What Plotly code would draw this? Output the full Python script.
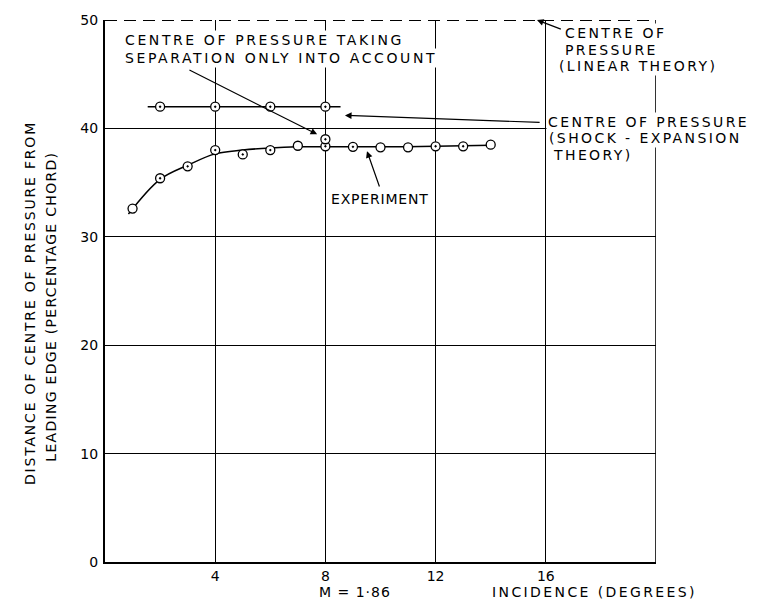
import plotly.graph_objects as go

# Centre of pressure position (% chord from leading edge) against incidence, M = 1.86
exp_incidence = [1, 2, 3, 4, 5, 6, 7, 8, 9, 10, 11, 12, 13, 14]
exp_cp = [32.6, 35.4, 36.5, 38.0, 37.6, 38.0, 38.4, 38.35, 38.3, 38.25, 38.25, 38.35, 38.35, 38.5]

# faired curve drawn through the experimental points
fair_incidence = [0.85, 2, 3, 4, 5, 6, 7, 8, 10, 12, 14]
fair_cp = [32.1, 35.3, 36.6, 37.65, 38.0, 38.2, 38.3, 38.3, 38.3, 38.35, 38.45]

# shock-expansion theory
shock_incidence = [2, 4, 6, 8]
shock_cp = [42.0, 42.0, 42.0, 42.0]
shock_line_incidence = [1.55, 8.55]
shock_line_cp = [42.0, 42.0]

# separation-only estimate
sep_incidence = [8]
sep_cp = [39.0]

# linear theory
linear_incidence = [0, 20]
linear_cp = [50, 50]

x_ticks = [4, 8, 12, 16]
y_ticks = [0, 10, 20, 30, 40, 50]

FONT = "DejaVu Sans"
INK = "black"


def spaced(text, ls):
    return f'<span style="letter-spacing:{ls}px">{text}</span>'


# point styles: some plotted circles carry a centre dot, some are plain
exp_symbols = ["circle" if x in (1, 7, 10, 11, 14) else "circle-dot" for x in exp_incidence]

fig = go.Figure()

fig.add_trace(go.Scatter(
    x=linear_incidence, y=linear_cp, mode="lines", cliponaxis=False,
    line=dict(color=INK, width=1.8, dash="12px,7px"), showlegend=False))

fig.add_trace(go.Scatter(
    x=fair_incidence, y=fair_cp, mode="lines", line_shape="spline",
    line=dict(color=INK, width=1.5), showlegend=False))

fig.add_trace(go.Scatter(
    x=shock_line_incidence, y=shock_line_cp, mode="lines",
    line=dict(color=INK, width=1.5), showlegend=False))

marker_style = dict(size=9, color="white", line=dict(color=INK, width=1.3))

fig.add_trace(go.Scatter(
    x=exp_incidence, y=exp_cp, mode="markers",
    marker=dict(symbol=exp_symbols, **marker_style), showlegend=False))

fig.add_trace(go.Scatter(
    x=shock_incidence, y=shock_cp, mode="markers",
    marker=dict(symbol="circle-dot", **marker_style), showlegend=False))

fig.add_trace(go.Scatter(
    x=sep_incidence, y=sep_cp, mode="markers",
    marker=dict(symbol="circle-dot", **marker_style), showlegend=False))

# right-hand frame edge
fig.add_shape(type="line", x0=20, x1=20, y0=0, y1=50, xref="x", yref="y",
              line=dict(color=INK, width=1.6), layer="above")

annotations = []


def text_lines(x_list, y, lines, ls, size=14, gap=16.5, anchor="left"):
    for i, (xx, line) in enumerate(zip(x_list, lines)):
        annotations.append(dict(
            x=xx, y=y, xref="x", yref="y", text=spaced(line, ls), showarrow=False,
            xanchor=anchor, yanchor="middle", yshift=-i * gap, align="left",
            bgcolor="white", borderpad=1, font=dict(family=FONT, size=size, color=INK)))


def arrow(tail, head):
    annotations.append(dict(
        x=head[0], y=head[1], ax=tail[0], ay=tail[1], xref="x", yref="y",
        axref="x", ayref="y", text="", showarrow=True, arrowhead=2,
        arrowsize=1.1, arrowwidth=1.2, arrowcolor=INK, standoff=0))


text_lines([0.65, 0.65], 48.15,
           ["CENTRE OF PRESSURE TAKING", "SEPARATION ONLY INTO ACCOUNT"], 2.6, gap=18)
text_lines([8.13], 33.45, ["EXPERIMENT"], 0.8)
text_lines([16.62, 16.62, 16.41], 48.8,
           ["CENTRE OF", "PRESSURE", "(LINEAR THEORY)"], 2.4)
text_lines([16.0, 16.05, 16.2], 40.6,
           ["CENTRE OF PRESSURE", "(SHOCK - EXPANSION", "THEORY)"], 2.4)

arrow((3.01, 45.45), (7.70, 39.45))
arrow((9.98, 34.5), (9.51, 37.9))
arrow((15.83, 40.55), (8.71, 41.2))
arrow((16.6, 49.1), (15.68, 50.0))

# vertical axis title, two lines
for xp, yp, line, ls in [(-0.136, 0.478, "DISTANCE OF CENTRE OF PRESSURE FROM", 1.8),
                         (-0.098, 0.471, "LEADING EDGE (PERCENTAGE CHORD)", 1.3)]:
    annotations.append(dict(
        x=xp, y=yp, xref="paper", yref="paper", text=spaced(line, ls), showarrow=False,
        textangle=-90, xanchor="center", yanchor="middle",
        font=dict(family=FONT, size=14, color=INK)))

annotations.append(dict(
    x=0.453, y=-0.0545, xref="paper", yref="paper", text=spaced("M = 1·86", 1.0),
    showarrow=False, xanchor="center", yanchor="middle",
    font=dict(family=FONT, size=14, color=INK)))
annotations.append(dict(
    x=0.889, y=-0.0545, xref="paper", yref="paper", text=spaced("INCIDENCE (DEGREES)", 2.4),
    showarrow=False, xanchor="center", yanchor="middle",
    font=dict(family=FONT, size=14, color=INK)))

fig.update_layout(
    width=762, height=606,
    margin=dict(l=105, r=106, t=12, b=44),
    paper_bgcolor="white", plot_bgcolor="white",
    font=dict(family=FONT, size=14, color=INK),
    annotations=annotations,
    showlegend=False,
)

fig.update_xaxes(
    range=[0, 20], tickvals=x_ticks, ticktext=[str(v) for v in x_ticks],
    showgrid=True, gridcolor=INK, gridwidth=1, zeroline=False,
    showline=True, linecolor=INK, linewidth=2, ticks="",
    tickfont=dict(family=FONT, size=14, color=INK))

fig.update_yaxes(
    range=[0, 50], tickvals=y_ticks, ticktext=[str(v) for v in y_ticks],
    showgrid=True, gridcolor=INK, gridwidth=1, zeroline=False,
    showline=True, linecolor=INK, linewidth=2, ticks="", ticklabelstandoff=2,
    tickfont=dict(family=FONT, size=14, color=INK))

fig.write_html("out.html")
